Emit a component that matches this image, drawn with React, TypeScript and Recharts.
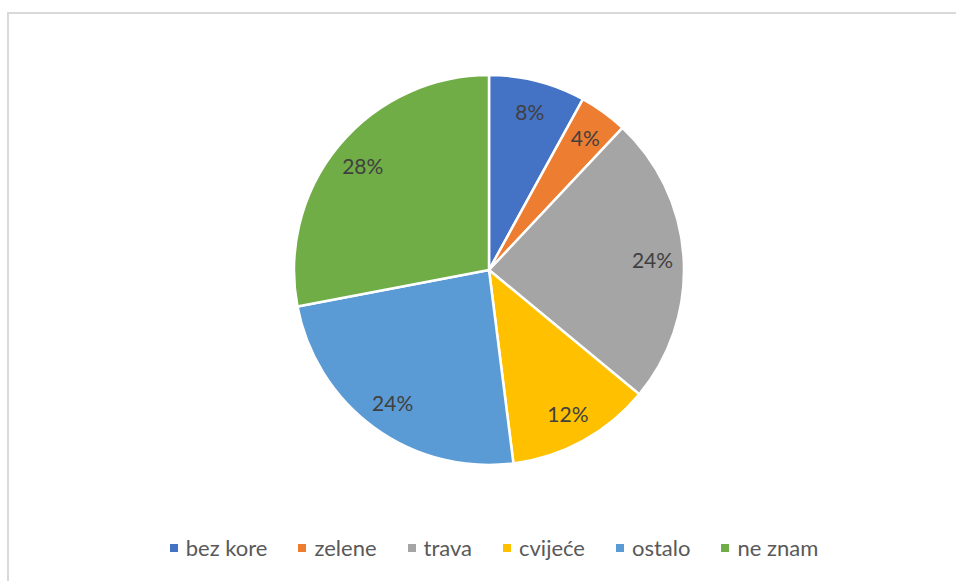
import React from "react";
import { PieChart, Pie, Cell, Legend } from "recharts";

const categories = ["bez kore", "zelene", "trava", "cvijeće", "ostalo", "ne znam"];
const shares = [8, 4, 24, 12, 24, 28];
const colors = ["#4472C4", "#ED7D31", "#A5A5A5", "#FFC000", "#5B9BD5", "#70AD47"];

const data = categories.map((name, i) => ({ name, value: shares[i] }));

const RAD = Math.PI / 180;
const FONT = "Lato, 'Open Sans', sans-serif";

const renderLabel = (props: any) => {
  const { cx, cy, midAngle, outerRadius, value } = props;
  const r = outerRadius * 0.84;
  const x = cx + r * Math.cos(-midAngle * RAD);
  const y = cy + r * Math.sin(-midAngle * RAD);
  return (
    <text
      x={x}
      y={y}
      fill="#404040"
      fontSize={21}
      fontFamily={FONT}
      textAnchor="middle"
      dominantBaseline="central"
    >
      {`${value}%`}
    </text>
  );
};

const LegendContent = () => (
  <div
    style={{
      display: "flex",
      justifyContent: "center",
      alignItems: "center",
      fontFamily: FONT,
      fontSize: 22,
      color: "#595959",
      gap: 31,
    }}
  >
    {categories.map((c, i) => (
      <div key={c} style={{ display: "flex", alignItems: "center" }}>
        <span
          style={{
            display: "inline-block",
            width: 8,
            height: 8,
            background: colors[i],
            marginRight: 8,
          }}
        />
        <span>{c}</span>
      </div>
    ))}
  </div>
);

export default function App() {
  return (
    <div
      style={{
        position: "fixed",
        left: 0,
        top: 0,
        width: 956,
        height: 581,
        overflow: "hidden",
        background: "#fff",
      }}
    >
      <div
        style={{
          position: "absolute",
          left: 7,
          top: 12,
          width: 1000,
          height: 640,
          border: "2px solid #d9d9d9",
          boxSizing: "border-box",
        }}
      />
      <div style={{ position: "absolute", left: 0, top: 0 }}>
        <PieChart width={956} height={581} margin={{ top: 0, right: 0, bottom: 0, left: 0 }}>
          <Pie
            data={data}
            dataKey="value"
            nameKey="name"
            cx={489}
            cy={270}
            outerRadius={195}
            startAngle={90}
            endAngle={-270}
            stroke="#ffffff"
            strokeWidth={2.5}
            label={renderLabel}
            labelLine={false}
            isAnimationActive={false}
          >
            {data.map((d, i) => (
              <Cell key={d.name} fill={colors[i]} />
            ))}
          </Pie>
          <Legend
            content={<LegendContent />}
            wrapperStyle={{ position: "absolute", left: 0, top: 534, width: 988 }}
          />
        </PieChart>
      </div>
    </div>
  );
}
